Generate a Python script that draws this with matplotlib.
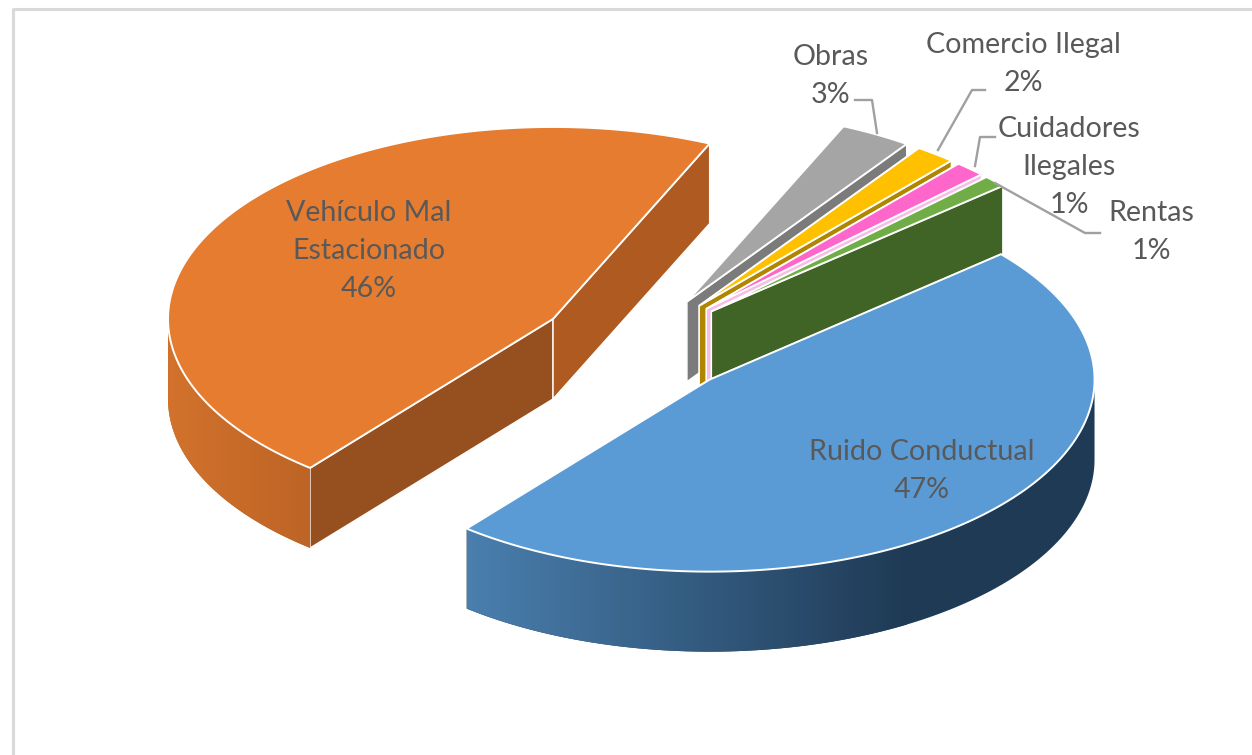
import numpy as np
import matplotlib
matplotlib.use('Agg')
import matplotlib.pyplot as plt
from matplotlib.colors import LinearSegmentedColormap
from matplotlib.patches import Polygon

names = ['Ruido Conductual', 'Vehículo Mal\nEstacionado', 'Obras', 'Comercio Ilegal',
         'Cuidadores\nIlegales', 'Rentas']
# shares, the labels show them rounded
values = [47.2, 45.8, 3.0, 1.7, 1.3, 1.0]
explode = [0.259, 0.259, 0.259, 0.259, 0.259, 0.259]

top_colors = ['#5B9BD5', '#E67C2F', '#A5A5A5', '#FFC000', '#FF66CC', '#70AD47']
face_colors = ['#2F5578', '#AE5A20', '#7B7B7B', '#B08600', '#F7BDE6', '#3F6426']
cut_colors = ['#2F5578', '#964F1E', '#7B7B7B', '#B08600', '#F7BDE6', '#3F6426']
wall_colors = [('#4A7FAE', '#1F3A55'), ('#D2722C', '#BD6426'), ('#7B7B7B', '#7B7B7B'),
               ('#B08600', '#B08600'), ('#F7BDE6', '#F7BDE6'), ('#3F6426', '#3F6426')]
label_xy = [(922, 471), (369, 251), (831, 76), (1023, 64), (1069, 167), (1151, 232)]

# pie geometry, in pixels
cx, cy = 638, 345
a, b = 385, 192
depth = 80
start = 40.8
gray = '#A0A0A0'
text_color = '#595959'


def rim(x0, y0, t, dy=0):
    t = np.radians(t)
    return np.column_stack([x0 + a * np.cos(t), y0 - b * np.sin(t) + dy])


def face(ax, x0, y0, t, color, z):
    p = rim(x0, y0, [t])[0]
    pts = [(x0, y0), p, (p[0], p[1] + depth), (x0, y0 + depth)]
    ax.add_patch(Polygon(pts, closed=True, facecolor=color, edgecolor='white', lw=1, zorder=z))


def wall(ax, x0, y0, t_hi, t_lo, colors, z):
    # outer rim is only visible on the front half of the ellipse
    t = np.linspace(t_hi, t_lo, 400)
    t = t[np.sin(np.radians(t)) <= 0]
    if len(t) < 2:
        return
    pts = np.vstack([rim(x0, y0, t), rim(x0, y0, t, depth)[::-1]])
    left, right = pts[:, 0].min(), pts[:, 0].max()
    poly = Polygon(pts, closed=True, facecolor=colors[1], edgecolor='none', zorder=z)
    ax.add_patch(poly)
    # the shading stops changing some way along the rim
    cmap = LinearSegmentedColormap.from_list('wall', colors)
    im = ax.imshow(np.linspace(0, 1, 256).reshape(1, -1), cmap=cmap, aspect='auto', zorder=z,
                   extent=(left, min(left + 440, right), pts[:, 1].max(), pts[:, 1].min()))
    im.set_clip_path(poly)


fig = plt.figure(figsize=(12.52, 7.55), dpi=100)
ax = fig.add_axes([0, 0, 1, 1])

# slices run clockwise from the start angle
angles = start - np.cumsum([0] + values) * 3.6
order = [2, 3, 4, 5, 1, 0]
for z, i in enumerate(order):
    t_hi, t_lo = angles[i], angles[i + 1]
    mid = np.radians((t_hi + t_lo) / 2)
    x0 = cx + explode[i] * a * np.cos(mid)
    y0 = cy - explode[i] * b * np.sin(mid)
    base = 10 * z + 2
    face(ax, x0, y0, t_hi, cut_colors[i], base)
    face(ax, x0, y0, t_lo, face_colors[i], base + 1)
    wall(ax, x0, y0, t_hi, t_lo, wall_colors[i], base + 2)
    arc = rim(x0, y0, np.linspace(t_hi, t_lo, 200))
    ax.add_patch(Polygon(np.vstack([[x0, y0], arc]), closed=True, facecolor=top_colors[i],
                         edgecolor='white', lw=1.4, zorder=base + 3))

for name, val, (lx, ly) in zip(names, values, label_xy):
    ax.text(lx, ly, '%s\n%d%%' % (name, round(val)), ha='center', va='center', color=text_color,
            family='Lato', fontsize=20.6, linespacing=1.55, zorder=90)

# leader lines
ax.plot([855, 872, 877], [100, 100, 133], color=gray, lw=1.7, zorder=80)
ax.plot([985, 972, 938], [90, 90, 150], color=gray, lw=1.7, zorder=80)
ax.plot([995, 980, 975], [137, 137, 166], color=gray, lw=1.7, zorder=80)
ax.plot([995, 1085, 1100], [183, 233, 233], color=gray, lw=1.7, zorder=80)

# chart frame, cut off on the right and at the bottom
ax.plot([13, 13, 1252], [755, 9, 9], color='#D9D9D9', lw=2.2, zorder=1)

ax.set_xlim(0, 1252)
ax.set_ylim(755, 0)
ax.axis('off')
fig.savefig('out.png', dpi=100)
